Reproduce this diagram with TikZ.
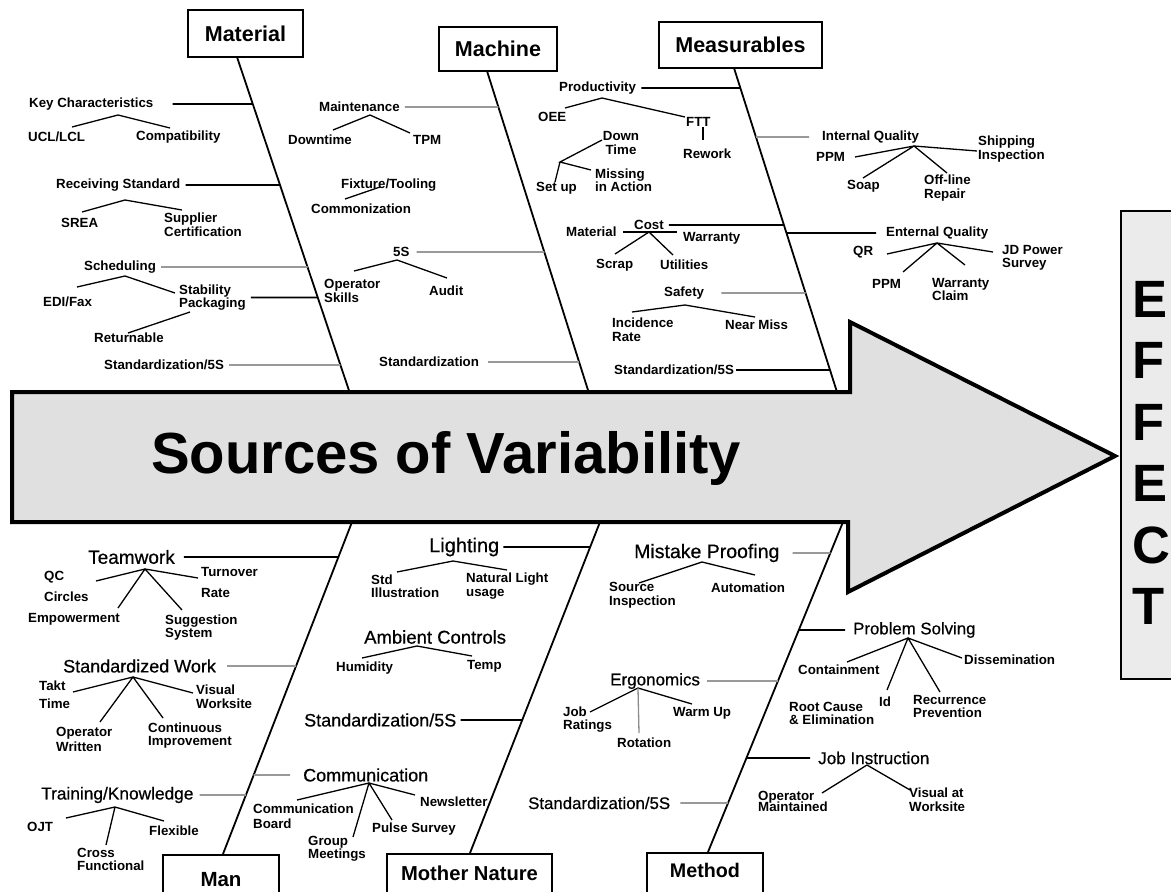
\documentclass[tikz,border=0pt]{standalone}
\usepackage{fontspec}
\setmainfont{Liberation Sans}
\newfontfamily\midweight[FakeBold=0.6]{Liberation Sans}
\begin{document}
\begin{tikzpicture}[x=1pt,y=-1pt,
  catbox/.style={draw, line width=1.6, fill=white, inner sep=0,
    font=\bfseries\fontsize{21.5}{24}\selectfont},
  lab/.style={font=\bfseries\fontsize{13.3}{13.5}\selectfont, inner sep=1, anchor=west, align=left},
  big/.style={font=\midweight\fontsize{#1}{#1}\selectfont, inner sep=1, anchor=west},
  big/.default=17.5,
  bone/.style={line width=1.8},
  rib/.style={line width=1.7, shorten <=#1},
  rib/.default=4,
  faint/.style={draw=black!40},
  twig/.style={line width=1.3},
  effl/.style={font=\bfseries\fontsize{52.5}{52.5}\selectfont, inner sep=0, anchor=base west},
]
\useasboundingbox (0,0) rectangle (1171,892);
\clip (0,0) rectangle (1171,892);
\fill[white] (0,0) rectangle (1171,892);

% ---------- bones ----------
\coordinate (matT) at (237,57);   \coordinate (matB) at (349.5,392);
\coordinate (macT) at (487,71);   \coordinate (macB) at (588.6,392);
\coordinate (meaT) at (734,68);   \coordinate (meaB) at (837,392);
\coordinate (manA) at (352,522);  \coordinate (manZ) at (223,854);
\coordinate (natA) at (600,522);  \coordinate (natZ) at (470,853);
\coordinate (metA) at (843,522);  \coordinate (metZ) at (708,852);
\draw[bone] (matT) -- (matB);
\draw[bone] (macT) -- (macB);
\draw[bone] (meaT) -- (meaB);
\draw[bone] (manA) -- (manZ);
\draw[bone] (natA) -- (natZ);
\draw[bone] (metA) -- (metZ);

% ---------- category boxes ----------
\node[catbox, minimum width=115, minimum height=47] (mat) at (245.5,33.5) {Material};
\node[catbox, minimum width=118, minimum height=44] (mac) at (498,49) {Machine};
\node[catbox, minimum width=163, minimum height=46] (mea) at (740.5,45) {Measurables};
\node[catbox, font=\bfseries\fontsize{20.5}{24}\selectfont, minimum width=116,
      minimum height=50, anchor=north] (man) at (221,854) {Man};
\node[catbox, font=\bfseries\fontsize{20.2}{24}\selectfont, minimum width=165,
      minimum height=50, anchor=north, text depth=12] (nat) at (469.5,853) {Mother Nature};
\node[catbox, font=\bfseries\fontsize{19.7}{24}\selectfont, minimum width=116,
      minimum height=50, anchor=north, text depth=14] (met) at (705,852) {Method};

% ---------- main arrow ----------
\draw[line width=4, fill=black!12, line join=miter]
  (12,392) -- (850,392) -- (850,322) -- (1115,456) -- (848,592) -- (848,522) -- (12,522) -- cycle;
\node[font=\bfseries\fontsize{58}{60}\selectfont] (src) at (446,458) {Sources of Variability};

% ---------- effect box ----------
\node[draw, line width=1.5, fill=black!8, minimum width=70, minimum height=468,
      anchor=north west, inner sep=0] (effect) at (1120,210) {};
\foreach \l [count=\i] in {E,F,F,E,C,T}
  \node[effl] (e\i) at (1132,{317+61.5*(\i-1)}) {\l};

% ================= Material =================
\node[lab] (kc) at (28,104) {Key Characteristics};
\node[lab] (ucl) at (27,137) {UCL/LCL};
\node[lab] (compat) at (135,137) {Compatibility};
\draw[rib=18] (kc.east) -- (intersection of matT--matB and kc.east--kc.west);
\path (118,115) coordinate (kcA) (72,127) coordinate (kc1) (170,128) coordinate (kc2);
\draw[twig] (kc1) -- (kcA) -- (kc2);

\node[lab] (rs) at (55,185) {Receiving Standard};
\node[lab] (srea) at (60,223) {SREA};
\node[lab] (sup) at (163,224.5) {Supplier\\Certification};
\draw[rib] (rs.east) -- (intersection of matT--matB and rs.east--rs.west);
\path (125,200) coordinate (rsA) (82,212) coordinate (rs1) (182,210) coordinate (rs2);
\draw[twig] (rs1) -- (rsA) -- (rs2);

\node[lab] (sched) at (83,267) {Scheduling};
\node[lab] (eoi) at (42,302) {EDI/Fax};
\node[lab] (stab) at (178,297.5) {Stability\\Packaging};
\node[lab] (ret) at (93,338) {Returnable};
\draw[rib, faint] (sched.east) -- (intersection of matT--matB and sched.east--sched.west);
\draw[rib] (stab.east) -- (intersection of matT--matB and stab.east--stab.west);
\path (125,276) coordinate (scA) (77,287) coordinate (sc1) (175,293) coordinate (sc2);
\draw[twig] (sc1) -- (scA) -- (sc2);
\path (190,312) coordinate (st1) (128,333) coordinate (st2);
\draw[twig] (st1) -- (st2);

\node[lab] (ms5) at (103,365) {Standardization/5S};
\draw[rib, faint] (ms5.east) -- (intersection of matT--matB and ms5.east--ms5.west);

% ================= Machine =================
\node[lab] (maint) at (318,107) {Maintenance};
\node[lab] (down) at (287,140) {Downtime};
\node[lab] (tpm) at (412,140) {TPM};
\draw[rib, faint] (maint.east) -- (intersection of macT--macB and maint.east--maint.west);
\path (370,115) coordinate (mtA) (333,130) coordinate (mt1) (410,133) coordinate (mt2);
\draw[twig] (mt1) -- (mtA) -- (mt2);

\node[lab] (fix) at (340,185) {Fixture/Tooling};
\node[lab] (com) at (310,209) {Commonization};
\path (345,199) coordinate (fx1) (380,187) coordinate (fx2);
\draw[twig] (fx1) -- (fx2);

\node[lab] (s5) at (392,252) {5S};
\node[lab] (opsk) at (323,291) {Operator\\Skills};
\node[lab] (audit) at (428,291) {Audit};
\draw[rib=6, faint] (s5.east) -- (intersection of macT--macB and s5.east--s5.west);
\path (397,260) coordinate (s5A) (354,271) coordinate (s51) (447,278) coordinate (s52);
\draw[twig] (s51) -- (s5A) -- (s52);

\node[lab] (mstd) at (378,362) {Standardization};
\draw[rib=8, faint] (mstd.east) -- (intersection of macT--macB and mstd.east--mstd.west);

% ================= Measurables =================
\node[lab] (prod) at (558,88) {Productivity};
\node[lab] (oee) at (537,117) {OEE};
\node[lab] (ftt) at (685,122) {FTT};
\node[lab] (rework) at (682,154) {Rework};
\draw[rib] (prod.east) -- (intersection of meaT--meaB and prod.east--prod.west);
\path (602,98) coordinate (prA) (565,108) coordinate (pr1) (685,117) coordinate (pr2);
\draw[twig] (pr1) -- (prA) -- (pr2);
\path (703,127) coordinate (ft1) (703,140) coordinate (ft2);
\draw[twig] (ft1) -- (ft2);

\node[lab, anchor=center, align=center] (dtime) at (621,143) {Down\\Time};
\node[lab] (mia) at (594,180) {Missing\\in Action};
\node[lab] (setup) at (535,188) {Set up};
\path (560,162) coordinate (dtA) (602,140) coordinate (dt1) (591,170) coordinate (dt2)
      (555,182) coordinate (dt3);
\draw[twig] (dt1) -- (dtA) -- (dt2) (dtA) -- (dt3);

\node[lab] (cost) at (633,225) {Cost};
\node[lab] (costmat) at (565,232) {Material};
\node[lab] (warr) at (682,238) {Warranty};
\node[lab] (scrap) at (595,265) {Scrap};
\node[lab] (util) at (659,265) {Utilities};
\draw[rib] (cost.east) -- (intersection of meaT--meaB and cost.east--cost.west);
\path (623,232) coordinate (cm1) (677,232) coordinate (cm2) (649,232) coordinate (cA)
      (615,254) coordinate (cs1) (673,255) coordinate (cs2);
\draw[twig] (cm1) -- (cm2);
\draw[twig] (cs1) -- (cA) -- (cs2);

\node[lab] (safety) at (663,293) {Safety};
\node[lab] (inc) at (611,329.5) {Incidence\\Rate};
\node[lab] (near) at (724,325) {Near Miss};
\draw[rib=16, faint] (safety.east) -- (intersection of meaT--meaB and safety.east--safety.west);
\path (685,305) coordinate (sfA) (632,312) coordinate (sf1) (755,317) coordinate (sf2);
\draw[twig] (sf1) -- (sfA) -- (sf2);

\node[lab] (mst5) at (613,370) {Standardization/5S};
\draw[rib=1] (mst5.east) -- (intersection of meaT--meaB and mst5.east--mst5.west);

% right of the Measurables bone
\node[lab] (iq) at (821,137) {Internal Quality};
\node[lab] (ippm) at (815,157) {PPM};
\node[lab] (ship) at (977,149) {Shipping\\Inspection};
\node[lab] (soap) at (846,186) {Soap};
\node[lab] (offl) at (923,188) {Off-line\\Repair};
\draw[rib=12, faint] (iq.west) -- (intersection of meaT--meaB and iq.east--iq.west);
\path (914,146) coordinate (iqA) (855,157) coordinate (iq1) (977,151) coordinate (iq2)
      (863,178) coordinate (iq3) (947,173) coordinate (iq4);
\draw[twig] (iq1) -- (iqA) -- (iq2) (iq3) -- (iqA) -- (iq4);

\node[lab] (eq) at (885,233) {Enternal Quality};
\node[lab] (qr) at (852,252) {QR};
\node[lab] (jd) at (1001,258) {JD Power\\Survey};
\node[lab] (eppm) at (871,284) {PPM};
\node[lab] (wcl) at (931,289.5) {Warranty\\Claim};
\draw[rib=9] (eq.west) -- (intersection of meaT--meaB and eq.east--eq.west);
\path (937,243) coordinate (eqA) (887,254) coordinate (eq1) (993,252) coordinate (eq2)
      (903,272) coordinate (eq3) (965,265) coordinate (eq4);
\draw[twig] (eq1) -- (eqA) -- (eq2) (eq3) -- (eqA) -- (eq4);

% ================= Man =================
\node[big=19] (team) at (87,557) {Teamwork};
\node[lab] (qc) at (43,586.5) {QC\\[8pt]Circles};
\node[lab] (turn) at (200,582.5) {Turnover\\[8pt]Rate};
\node[lab] (emp) at (27,619) {Empowerment};
\node[lab] (sugg) at (164,627.5) {Suggestion\\System};
\draw[rib=8] (team.east) -- (intersection of manA--manZ and team.east--team.west);
\path (145,569) coordinate (tmA) (96,581) coordinate (tm1) (198,578) coordinate (tm2)
      (118,608) coordinate (tm3) (182,610) coordinate (tm4);
\draw[twig] (tm1) -- (tmA) -- (tm2) (tm3) -- (tmA) -- (tm4);

\node[big=18] (sw) at (62,666) {Standardized Work};
\node[lab] (takt) at (38,695) {Takt\\[4.5pt]Time};
\node[lab] (vis) at (195,696.5) {Visual\\Worksite};
\node[lab] (opw) at (55,739.5) {Operator\\[1.5pt]Written};
\node[lab] (cont) at (147,735.5) {Continuous\\Improvement};
\draw[rib=10, faint] (sw.east) -- (intersection of manA--manZ and sw.east--sw.west);
\path (133,677) coordinate (swA) (73,692) coordinate (sw1) (193,693) coordinate (sw2)
      (100,722) coordinate (sw3) (163,718) coordinate (sw4);
\draw[twig] (sw1) -- (swA) -- (sw2) (sw3) -- (swA) -- (sw4);

\node[big=17.3] (tk) at (40,795) {Training/Knowledge};
\node[lab] (ojt) at (26,827) {OJT};
\node[lab] (flex) at (148,831) {Flexible};
\node[lab] (cross) at (76,859.5) {Cross\\Functional};
\draw[rib=5, faint] (tk.east) -- (intersection of manA--manZ and tk.east--tk.west);
\path (115,807) coordinate (tkA) (66,818) coordinate (tk1) (164,821) coordinate (tk2)
      (106,845) coordinate (tk3);
\draw[twig] (tk1) -- (tkA) -- (tk2) (tkA) -- (tk3);

\node[big=18] (comm) at (302,775) {Communication};
\node[lab] (cbd) at (252,816.5) {Communication\\[1.5pt]Board};
\node[lab] (news) at (419,802) {Newsletter};
\node[lab] (pulse) at (371,829) {Pulse Survey};
\node[lab] (group) at (307,849) {Group\\Meetings};
\draw[rib=12, faint] (comm.west) -- (intersection of manA--manZ and comm.east--comm.west);
\path (369,783) coordinate (coA) (297,800) coordinate (co1) (415,795) coordinate (co2)
      (353,837) coordinate (co3) (392,820) coordinate (co4);
\draw[twig] (co1) -- (coA) -- (co2) (co3) -- (coA) -- (co4);

% ================= Mother Nature =================
\node[big=20] (light) at (428,547) {Lighting};
\node[lab] (stdi) at (370,586) {Std\\Illustration};
\node[lab] (natl) at (465,586) {Natural Light\\usage};
\draw[rib=3] (light.east) -- (intersection of natA--natZ and light.east--light.west);
\path (453,561) coordinate (lgA) (397,572) coordinate (lg1) (507,570) coordinate (lg2);
\draw[twig] (lg1) -- (lgA) -- (lg2);

\node[big=18.5] (amb) at (363,637) {Ambient Controls};
\node[lab] (hum) at (335,668) {Humidity};
\node[lab] (temp) at (466,666) {Temp};
\path (417,646) coordinate (amA) (362,658) coordinate (am1) (472,656) coordinate (am2);
\draw[twig] (am1) -- (amA) -- (am2);

\node[big=18] (nat5) at (303,720) {Standardization/5S};
\draw[rib=3] (nat5.east) -- (intersection of natA--natZ and nat5.east--nat5.west);

% ================= Method =================
\node[big=19.5] (mp) at (633,553) {Mistake Proofing};
\node[lab] (srci) at (608,595) {Source\\Inspection};
\node[lab] (auto) at (710,588) {Automation};
\draw[rib=12, faint] (mp.east) -- (intersection of metA--metZ and mp.east--mp.west);
\path (702,562) coordinate (mpA) (639,583) coordinate (mp1) (755,575) coordinate (mp2);
\draw[twig] (mp1) -- (mpA) -- (mp2);

\node[big=17] (ergo) at (609,681) {Ergonomics};
\node[lab] (job) at (562,719.5) {Job\\Ratings};
\node[lab] (warm) at (672,713) {Warm Up};
\node[lab] (rot) at (616,743) {Rotation};
\draw[rib=6, faint] (ergo.east) -- (intersection of metA--metZ and ergo.east--ergo.west);
\path (638,688) coordinate (erA) (590,712) coordinate (er1) (692,704) coordinate (er2)
      (639,733) coordinate (er3);
\draw[twig] (er1) -- (erA) -- (er2);
\draw[twig, black!45] (erA) -- (er3);

\node[big=16.8] (met5) at (527,803) {Standardization/5S};
\draw[rib=9, faint] (met5.east) -- (intersection of metA--metZ and met5.east--met5.west);

\node[big=16.8] (ps) at (852,630) {Problem Solving};
\node[lab] (contain) at (797,670) {Containment};
\node[lab] (diss) at (963,660) {Dissemination};
\node[lab] (root) at (788,713.5) {Root Cause\\\& Elimination};
\node[lab] (idn) at (878,702) {Id};
\node[lab] (rec) at (912,706.5) {Recurrence\\Prevention};
\draw[rib=7] (ps.west) -- (intersection of metA--metZ and ps.east--ps.west);
\path (908,638) coordinate (psA) (847,662) coordinate (ps1) (962,658) coordinate (ps2)
      (887,690) coordinate (ps3) (940,692) coordinate (ps4);
\draw[twig] (ps1) -- (psA) -- (ps2) (ps3) -- (psA) -- (ps4);

\node[big=17.1] (ji) at (817,758) {Job Instruction};
\node[lab] (opm) at (757,801.5) {Operator\\[-2pt]Maintained};
\node[lab] (visw) at (908,799.5) {Visual at\\Worksite};
\draw[rib=7] (ji.west) -- (intersection of metA--metZ and ji.east--ji.west);
\path (867,765) coordinate (jiA) (822,793) coordinate (ji1) (910,790) coordinate (ji2);
\draw[twig] (ji1) -- (jiA) -- (ji2);
\end{tikzpicture}
\end{document}
